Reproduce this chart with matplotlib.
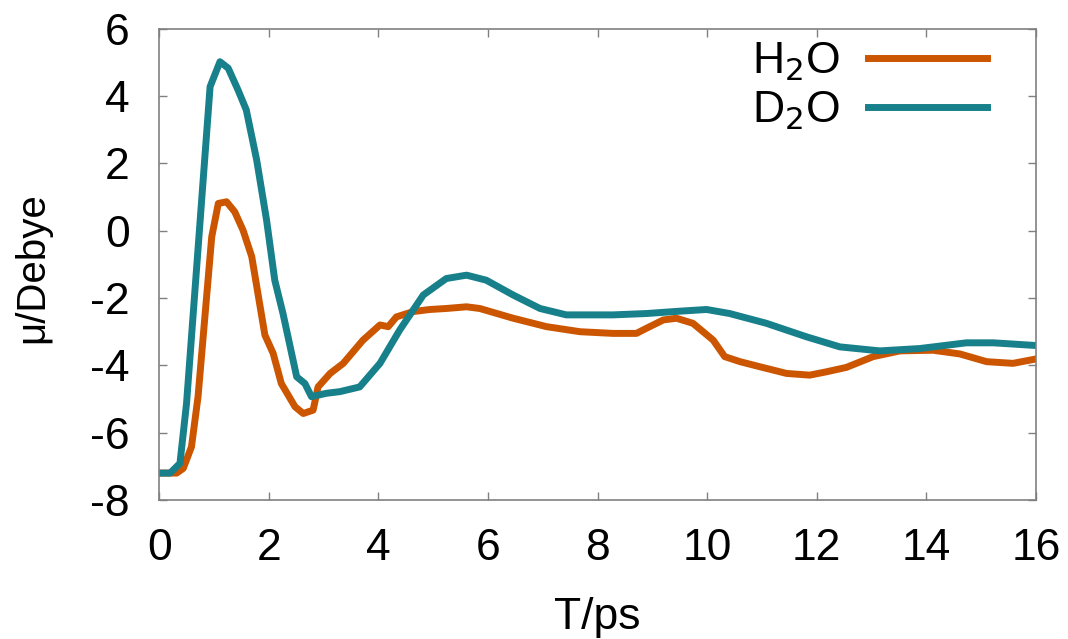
import matplotlib
matplotlib.use('Agg')
import matplotlib.pyplot as plt

plt.rcParams['font.family'] = ['Liberation Sans', 'DejaVu Sans']

# H2O curve
t_h2o = [0.0, 0.32, 0.44, 0.59, 0.71, 0.83, 0.96, 1.08, 1.23, 1.38, 1.53, 1.69, 1.93,
         2.08, 2.23, 2.48, 2.63, 2.81, 2.9, 3.12, 3.36, 3.72, 4.03, 4.18, 4.33, 4.64,
         4.94, 5.24, 5.61, 5.85, 6.46, 7.07, 7.68, 8.28, 8.71, 8.89, 9.2, 9.44, 9.74,
         10.11, 10.32, 10.6, 10.96, 11.45, 11.87, 12.18, 12.54, 13.03, 13.52, 14.12,
         14.61, 15.1, 15.58, 16.0]
mu_h2o = [-7.2, -7.2, -7.06, -6.42, -4.93, -2.65, -0.18, 0.81, 0.86, 0.56, 0.02, -0.77,
          -3.1, -3.64, -4.54, -5.23, -5.43, -5.33, -4.64, -4.24, -3.94, -3.25, -2.8,
          -2.85, -2.56, -2.4, -2.34, -2.31, -2.26, -2.31, -2.6, -2.85, -3.0, -3.05,
          -3.05, -2.9, -2.65, -2.6, -2.75, -3.25, -3.74, -3.89, -4.04, -4.24, -4.29,
          -4.19, -4.06, -3.74, -3.57, -3.55, -3.66, -3.89, -3.94, -3.81]

# D2O curve
t_d2o = [0.0, 0.2, 0.38, 0.5, 0.74, 0.93, 1.11, 1.26, 1.44, 1.59, 1.78, 1.96, 2.11,
         2.26, 2.51, 2.66, 2.78, 3.05, 3.3, 3.66, 4.03, 4.39, 4.82, 5.24, 5.61, 5.97,
         6.46, 6.95, 7.43, 8.28, 8.89, 9.5, 9.99, 10.41, 11.08, 11.81, 12.42, 13.15,
         13.88, 14.73, 15.22, 16.0]
mu_d2o = [-7.2, -7.2, -6.91, -5.13, 0.12, 4.28, 5.02, 4.83, 4.18, 3.59, 2.1, 0.32,
          -1.47, -2.46, -4.34, -4.54, -4.93, -4.83, -4.78, -4.64, -3.94, -2.95, -1.91,
          -1.42, -1.32, -1.47, -1.91, -2.31, -2.5, -2.5, -2.46, -2.39, -2.34, -2.46,
          -2.75, -3.15, -3.45, -3.57, -3.5, -3.33, -3.33, -3.41]

xticks = [0, 2, 4, 6, 8, 10, 12, 14, 16]
yticks = [-8, -6, -4, -2, 0, 2, 4, 6]
ytick_labels = ['-8', '-6', '-4', '-2', '0', '2', '4', '6']

fig = plt.figure(figsize=(10.68, 6.39), dpi=100)
ax = fig.add_axes([0.149, 0.2175, 0.821, 0.7375])

ax.plot(t_h2o, mu_h2o, color='#CC5500', lw=5, label='H$_2$O')
ax.plot(t_d2o, mu_d2o, color='#17808A', lw=5, label='D$_2$O')

ax.set_xlim(0, 16)
ax.set_ylim(-8, 6)
ax.set_xticks(xticks)
ax.set_yticks(yticks)
ax.set_yticklabels(ytick_labels)
ax.tick_params(direction='in', top=True, right=True, length=6, width=1,
               color='#808080', labelsize=32)
ax.tick_params(axis='x', pad=20)
ax.tick_params(axis='y', pad=21)
for s in ax.spines.values():
    s.set_color('#808080')
    s.set_linewidth(1.2)

ax.set_xlabel('T/ps', fontsize=32)
ax.xaxis.set_label_coords(0.5, -0.205)
ax.set_ylabel('\u03bc/Debye', fontsize=29, va='center')
ax.yaxis.set_label_coords(-0.145, 0.494)

leg = ax.legend(loc='upper right', frameon=False, markerfirst=False, fontsize=32,
                handlelength=2.68, handletextpad=0.63, labelspacing=0.16,
                borderpad=0, borderaxespad=0, bbox_to_anchor=(0.944, 0.975))

plt.savefig('out.png', dpi=100)
